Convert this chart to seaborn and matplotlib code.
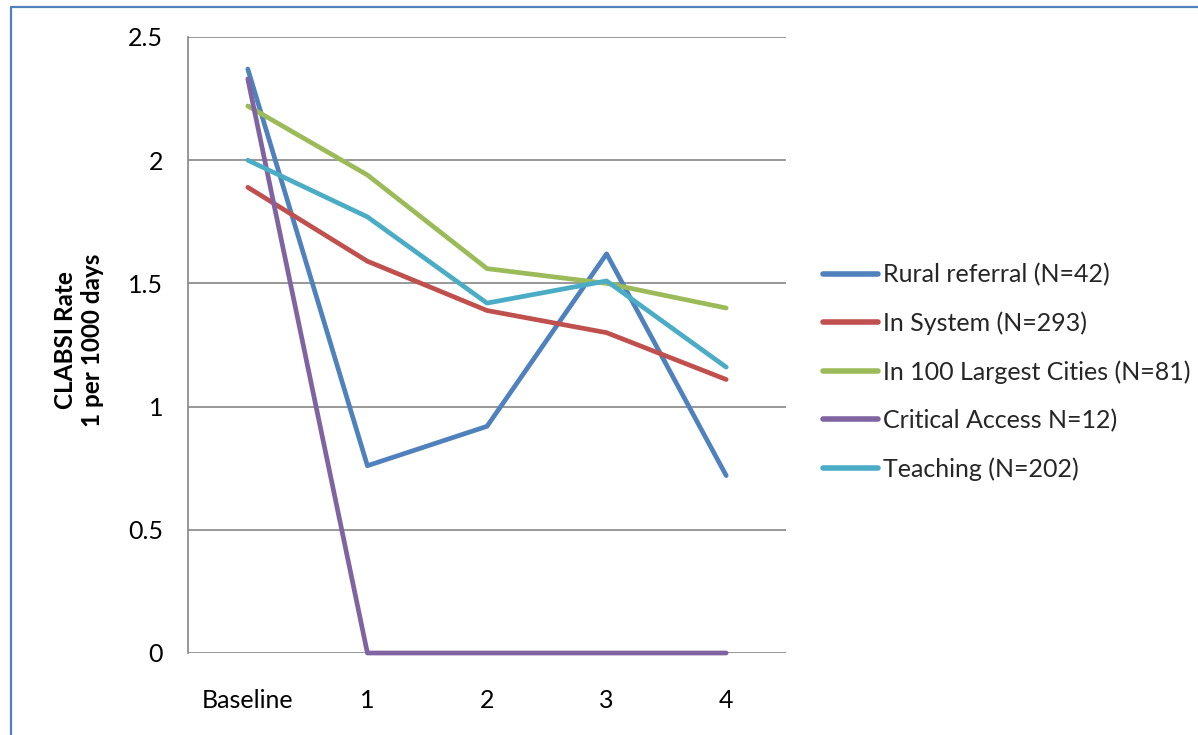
import matplotlib
matplotlib.use("Agg")
import matplotlib.pyplot as plt
import seaborn as sns
import pandas as pd
from matplotlib.lines import Line2D

# Measurement periods and CLABSI rates per hospital group
periods = ["Baseline", "1", "2", "3", "4"]
rural_referral = [2.37, 0.76, 0.92, 1.62, 0.72]
in_system = [1.89, 1.59, 1.39, 1.30, 1.11]
largest_cities = [2.22, 1.94, 1.56, 1.50, 1.40]
critical_access = [2.33, 0.0, 0.0, 0.0, 0.0]
teaching = [2.00, 1.77, 1.42, 1.51, 1.16]

group_names = [
    "Rural referral (N=42)",
    "In System (N=293)",
    "In 100 Largest Cities (N=81)",
    "Critical Access N=12)",
    "Teaching (N=202)",
]
group_values = [rural_referral, in_system, largest_cities, critical_access, teaching]
group_colors = ["#4F81BD", "#C0504D", "#9BBB59", "#8064A2", "#4BACC6"]
y_ticks = [0, 0.5, 1, 1.5, 2, 2.5]
y_tick_labels = ["0", "0.5", "1", "1.5", "2", "2.5"]

rows = []
for name, vals in zip(group_names, group_values):
    for i, v in enumerate(vals):
        rows.append({"period": i, "group": name, "rate": v})
df = pd.DataFrame(rows)

sns.set_theme(style="white")
plt.rcParams["font.family"] = ["Lato", "DejaVu Sans"]

W, H = 1198, 735
fig = plt.figure(figsize=(W / 100, H / 100), dpi=100)
ax = fig.add_axes([188 / W, 1 - 653 / H, (786 - 188) / W, (653 - 37) / H])

sns.lineplot(
    data=df, x="period", y="rate", hue="group", hue_order=group_names,
    palette=dict(zip(group_names, group_colors)), linewidth=3.4,
    legend=False, ax=ax, solid_capstyle="round", solid_joinstyle="round",
)
for ln in ax.get_lines():
    ln.set_clip_on(False)
    ln.set_zorder(3)

grid_color = "#868686"
ax.set_xlim(-0.5, 4.5)
ax.set_ylim(0, 2.5)
ax.set_yticks(y_ticks)
ax.set_yticklabels(y_tick_labels)
ax.set_xticks(range(len(periods)))
ax.set_xticklabels(periods)
ax.yaxis.grid(True, color=grid_color, linewidth=1.2)
ax.xaxis.grid(False)
ax.set_axisbelow(True)
for side in ["top", "right", "bottom"]:
    ax.spines[side].set_visible(False)
ax.spines["left"].set_color(grid_color)
ax.spines["left"].set_linewidth(1.2)
ax.tick_params(axis="y", length=0, pad=18, labelsize=18, labelcolor="black")
ax.tick_params(axis="x", length=0, pad=26, labelsize=18, labelcolor="black")
ax.set_xlabel("")
ax.set_ylabel("")

fig.text(79 / W, 1 - 340 / H, "CLABSI Rate\n1 per 1000 days", rotation=90,
         ha="center", va="center", multialignment="center",
         fontsize=17.5, fontweight="bold", color="black", linespacing=1.25)

handles = [Line2D([0], [0], color=c, linewidth=4.0, solid_capstyle="round")
           for c in group_colors]
fig.legend(handles, group_names, loc="center left",
           bbox_to_anchor=(823 / W, 1 - 372 / H), frameon=False,
           fontsize=18, handlelength=2.2, handletextpad=0.2,
           labelspacing=1.0, borderpad=0, borderaxespad=0)

# Frame around the figure panel
border = "#4F81BD"
fig.add_artist(Line2D([11 / W, 11 / W], [0, 1 - 7 / H], color=border,
                      linewidth=1.6, transform=fig.transFigure))
fig.add_artist(Line2D([11 / W, 1], [1 - 7 / H, 1 - 7 / H], color=border,
                      linewidth=1.6, transform=fig.transFigure))

fig.savefig("out.png", dpi=100, facecolor="white")
